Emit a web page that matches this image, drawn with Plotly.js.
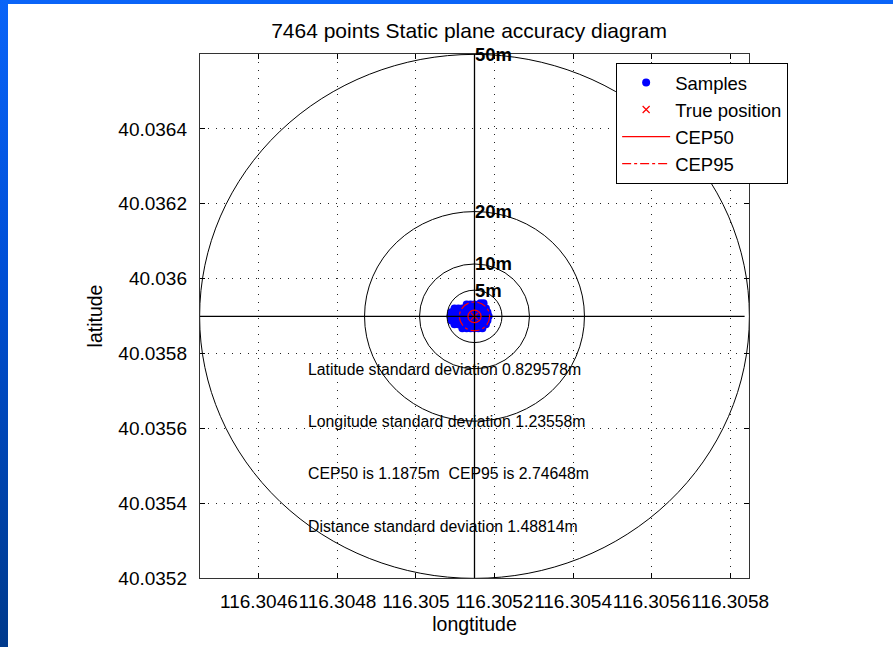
<!DOCTYPE html>
<html>
<head>
<meta charset="utf-8">
<script src="https://cdn.plot.ly/plotly-3.0.1.min.js"></script>
<style>
  html, body { margin:0; padding:0; width:893px; height:647px; overflow:hidden;
    background: linear-gradient(to bottom, #0a64f8 0%, #0050d8 40%, #003a8c 100%); }
  #chart { position:absolute; left:8px; top:4px; width:885px; height:643px; background:#fff; }
</style>
</head>
<body>
<div id="chart"></div>
<script>
// ---- data ----
const titleText = '7464 points Static plane accuracy diagram';
const xTickVals = [116.3046, 116.3048, 116.3050, 116.3052, 116.3054, 116.3056, 116.3058];
const xTickText = ['116.3046', '116.3048', '116.305', '116.3052', '116.3054', '116.3056', '116.3058'];
const yTickVals = [40.0352, 40.0354, 40.0356, 40.0358, 40.0360, 40.0362, 40.0364];
const yTickText = ['40.0352', '40.0354', '40.0356', '40.0358', '40.036', '40.0362', '40.0364'];
const xRange = [116.30445, 116.305848];
const yRange = [40.0352, 40.0366];

const trueLon = [116.305149];
const trueLat = [40.035899];

const ringRadiiM = [50, 20, 10, 5];
const ringLabels = ['50m', '20m', '10m', '5m'];
const degPerMeter = 1.4e-5;            // ring scale as drawn in the figure
const cepNames = ['CEP50', 'CEP95'];
const cepRadiiM = [1.1875, 2.74648];

const statLines = [
  'Latitude standard deviation 0.829578m',
  'Longitude standard deviation 1.23558m',
  'CEP50 is 1.1875m  CEP95 is 2.74648m',
  'Distance standard deviation 1.48814m'
];

// sample cloud (estimated positions of the dense blob)
const sampleLon = [
  116.305164, 116.305172,
  116.305129, 116.305139, 116.305149,
  116.305098, 116.305108, 116.305118, 116.305129, 116.305139, 116.305149, 116.305159, 116.305169, 116.305178,
  116.305090, 116.305100, 116.305111, 116.305121, 116.305131, 116.305141, 116.305152, 116.305162, 116.305172, 116.305182,
  116.305088, 116.305098, 116.305108, 116.305118, 116.305129, 116.305139, 116.305149, 116.305159, 116.305169, 116.305180, 116.305185,
  116.305090, 116.305100, 116.305111, 116.305121, 116.305131, 116.305141, 116.305152, 116.305162, 116.305172, 116.305182,
  116.305098, 116.305108, 116.305118, 116.305129, 116.305139, 116.305149, 116.305159, 116.305169, 116.305178,
  116.305118, 116.305129, 116.305139, 116.305149, 116.305159, 116.305169
];
const sampleLat = [
  40.035934, 40.035934,
  40.035931, 40.035931, 40.035931,
  40.035920, 40.035920, 40.035920, 40.035920, 40.035920, 40.035920, 40.035920, 40.035920, 40.035920,
  40.035910, 40.035910, 40.035910, 40.035910, 40.035910, 40.035910, 40.035910, 40.035910, 40.035910, 40.035910,
  40.035899, 40.035899, 40.035899, 40.035899, 40.035899, 40.035899, 40.035899, 40.035899, 40.035899, 40.035899, 40.035899,
  40.035888, 40.035888, 40.035888, 40.035888, 40.035888, 40.035888, 40.035888, 40.035888, 40.035888, 40.035888,
  40.035878, 40.035878, 40.035878, 40.035878, 40.035878, 40.035878, 40.035878, 40.035878, 40.035878,
  40.035867, 40.035867, 40.035867, 40.035867, 40.035867, 40.035867
];

// ---- build ----
const cx = trueLon[0], cy = trueLat[0];
const cepDash = ['solid', 'dashdot'];
const traces = [
  { type:'scatter', mode:'markers', name:'Samples', x:sampleLon, y:sampleLat,
    marker:{ color:'#0000ff', size:8, symbol:'circle', line:{width:0} }, legendrank:1 },
  { type:'scatter', mode:'markers', name:'True position', x:trueLon, y:trueLat,
    marker:{ color:'#ff0000', size:7, symbol:'x-thin', line:{color:'#ff0000', width:1.2} }, legendrank:2 }
];
// legend-only line entries for the CEP circles (circles themselves are shapes)
cepNames.forEach(function(n, i){
  traces.push({ type:'scatter', mode:'lines', name:n, x:[null], y:[null],
    line:{ color:'#ff0000', width:1.2, dash:cepDash[i] }, legendrank:3 + i, hoverinfo:'skip' });
});

const shapes = [];
// black cross through the true position
shapes.push({ type:'line', xref:'x', yref:'paper', x0:cx, x1:cx, y0:0, y1:1, line:{color:'#000', width:1.3}, layer:'above' });
shapes.push({ type:'line', xref:'paper', yref:'y', x0:0, x1:0.992, y0:cy, y1:cy, line:{color:'#000', width:1.3}, layer:'above' });
ringRadiiM.forEach(function(m){
  const r = m * degPerMeter;
  shapes.push({ type:'circle', xref:'x', yref:'y', x0:cx - r, x1:cx + r, y0:cy - r, y1:cy + r,
    line:{color:'#000', width:1}, layer:'above' });
});
cepRadiiM.forEach(function(m, i){
  const r = m * degPerMeter;
  shapes.push({ type:'circle', xref:'x', yref:'y', x0:cx - r, x1:cx + r, y0:cy - r, y1:cy + r,
    line:{color:'#ff0000', width:1.2, dash:cepDash[i]}, layer:'above' });
});

const annotations = [];
ringRadiiM.forEach(function(m, i){
  annotations.push({ xref:'x', yref:'y', x:cx, y:cy + m * degPerMeter, text:ringLabels[i],
    showarrow:false, xanchor:'left', yanchor:'middle', xshift:-2,
    font:{ family:'Liberation Sans, Arial, sans-serif', size:18.5, weight:'bold', color:'#000' } });
});
const statY = [0.397, 0.298, 0.200, 0.099];
statLines.forEach(function(t, i){
  annotations.push({ xref:'paper', yref:'paper', x:0.1985, y:statY[i], text:t, showarrow:false, xshift:-3,
    xanchor:'left', yanchor:'middle', font:{ family:'Liberation Sans, Arial, sans-serif', size:15.8, color:'#000' } });
});

const axisCommon = {
  ticks:'inside', ticklen:5, tickcolor:'#000', tickwidth:1,
  showline:true, linecolor:'#333', linewidth:1.2, mirror:'ticks',
  showgrid:true, gridcolor:'#222', gridwidth:1, griddash:'1px,7px',
  zeroline:false, automargin:false, tickmode:'array',
  tickfont:{ size:19, color:'#000' }
};

const layout = {
  width:885, height:643,
  paper_bgcolor:'#ffffff', plot_bgcolor:'#ffffff',
  margin:{ l:192, r:144, t:50, b:69 },
  font:{ family:'Liberation Sans, Arial, sans-serif', color:'#000' },
  title:{ text:titleText, font:{ size:21, color:'#000' }, xref:'paper', x:0.49, xanchor:'center',
    yref:'container', y:1 - 27/643, yanchor:'middle' },
  xaxis: Object.assign({}, axisCommon, { range:xRange, tickvals:xTickVals, ticktext:xTickText, tickangle:0,
    ticklabelstandoff:6, title:{ text:'longtitude', font:{ size:19.5 }, standoff:6 } }),
  yaxis: Object.assign({}, axisCommon, { range:yRange, tickvals:yTickVals, ticktext:yTickText,
    ticklabelstandoff:8, title:{ text:'latitude', font:{ size:19.5 }, standoff:10 } }),
  showlegend:true,
  legend:{ x:0.758, y:0.983, xanchor:'left', yanchor:'top', bgcolor:'#fff', bordercolor:'#000', borderwidth:1,
    font:{ size:18.5, color:'#000' }, itemwidth:48, tracegroupgap:0 },
  shapes:shapes,
  annotations:annotations
};

Plotly.newPlot('chart', traces, layout, { displayModeBar:false, staticPlot:true });
</script>
</body>
</html>
